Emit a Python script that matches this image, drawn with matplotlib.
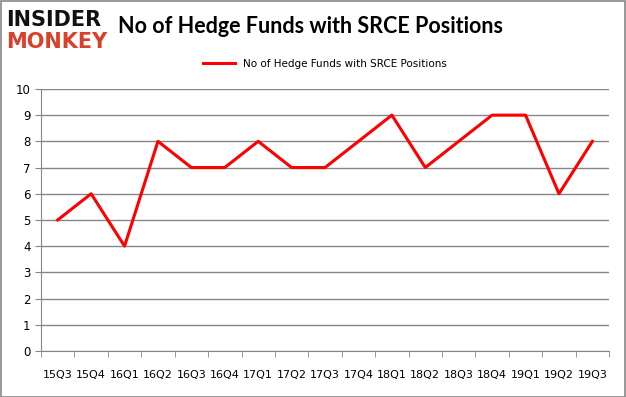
import matplotlib.pyplot as plt
import numpy as np
from matplotlib.patches import Rectangle

quarters = ['15Q3', '15Q4', '16Q1', '16Q2', '16Q3', '16Q4', '17Q1', '17Q2', '17Q3',
            '17Q4', '18Q1', '18Q2', '18Q3', '18Q4', '19Q1', '19Q2', '19Q3']
funds = [5, 6, 4, 8, 7, 7, 8, 7, 7, 8, 9, 7, 8, 9, 9, 6, 8]
yticks = list(range(0, 11))

fig = plt.figure(figsize=(6.26, 3.97), dpi=100)
ax = fig.add_axes([0.0655, 0.116, 0.9075, 0.66])

x = np.arange(len(quarters))
ax.plot(x, funds, color='#ff0000', linewidth=2.2, label='No of Hedge Funds with SRCE Positions')

ax.set_xlim(-0.5, len(quarters) - 0.5)
ax.set_ylim(0, 10)
ax.set_yticks(yticks)
ax.yaxis.grid(True, color='#868686', linewidth=1)
ax.set_axisbelow(True)

ax.set_xticks(x)
ax.set_xticklabels(quarters, fontsize=8)
ax.set_xticks(np.arange(-0.5, len(quarters)), minor=True)
ax.tick_params(axis='x', which='major', length=0, pad=14)
ax.tick_params(axis='x', which='minor', length=4, color='#868686')
ax.tick_params(axis='y', length=4, color='#868686', labelsize=8.5)

for side in ['top', 'right']:
    ax.spines[side].set_visible(False)
for side in ['left', 'bottom']:
    ax.spines[side].set_color('#868686')

ax.legend(loc='upper center', bbox_to_anchor=(0.5, 1.15), frameon=False, fontsize=7.5,
          handlelength=3)

fig.text(0.188, 0.932, 'No of Hedge Funds with SRCE Positions', fontsize=15.5, fontweight='bold',
         family='Lato', va='center', ha='left')
fig.text(0.010, 0.950, 'INSIDER', fontsize=15, fontweight='heavy', color='#111111',
         va='center', ha='left')
fig.text(0.010, 0.893, 'MONKEY', fontsize=15, fontweight='heavy', color='#d9402a',
         va='center', ha='left')

fig.patches.append(Rectangle((0.001, 0.001), 0.997, 0.997, transform=fig.transFigure,
                             fill=False, edgecolor='#868686', linewidth=1.2))

fig.savefig('out.png', dpi=100)
